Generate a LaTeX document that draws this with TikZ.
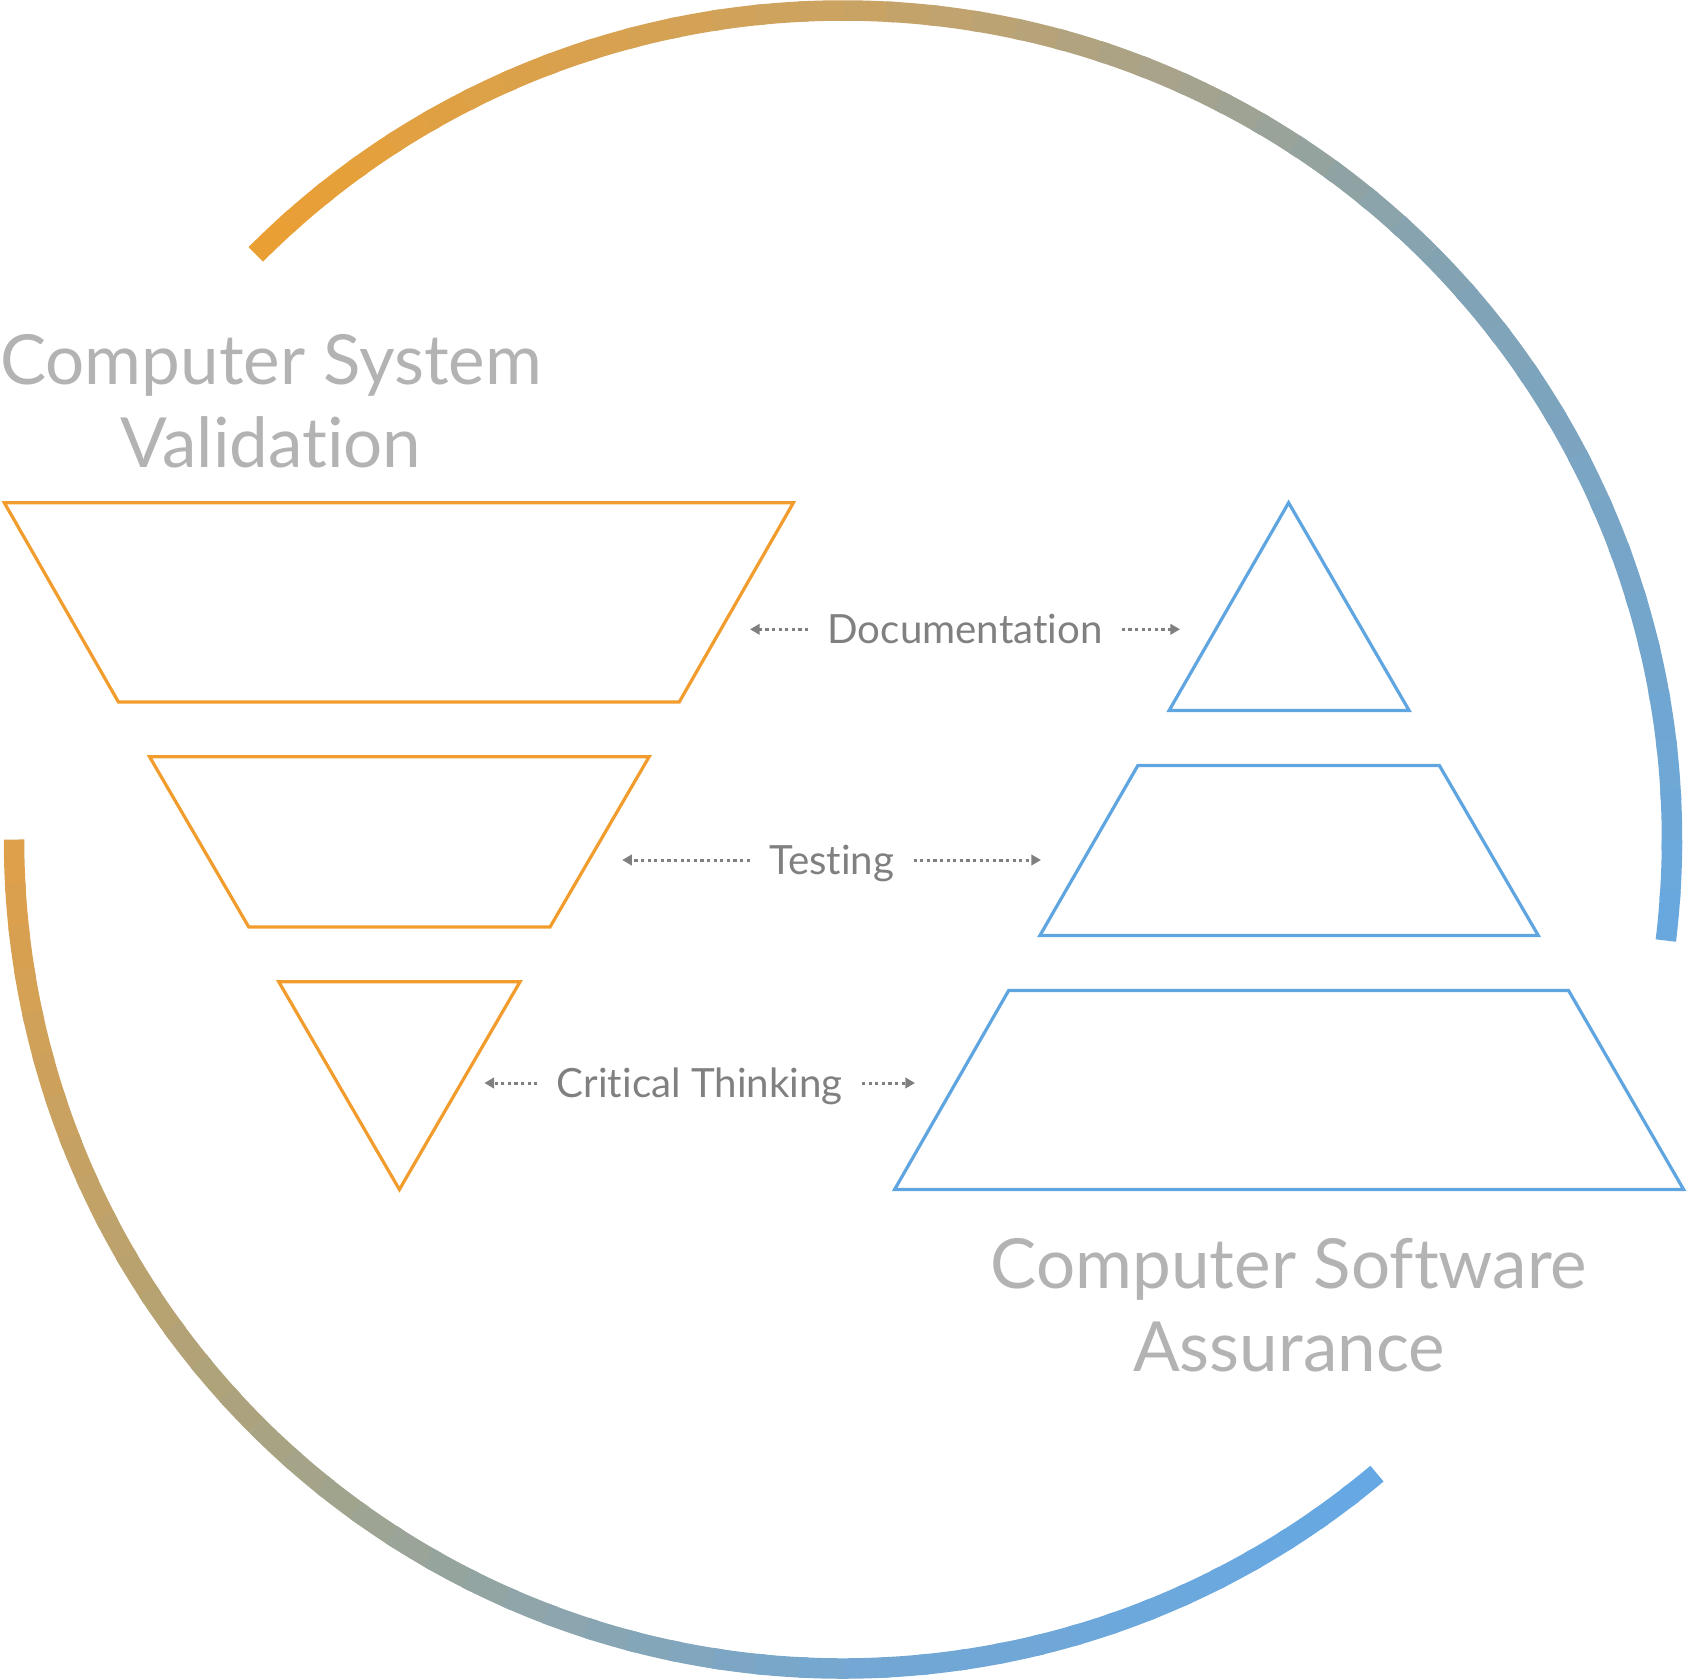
\documentclass[tikz,border=0pt]{standalone}
\usepackage{fontspec}
\setmainfont{Lato}[Ligatures=NoCommon]
\usepackage{tikz}
\usetikzlibrary{arrows.meta}
\definecolor{ArcOr}{RGB}{235,159,50}
\definecolor{ArcTan}{RGB}{203,163,98}
\definecolor{ArcSlate}{RGB}{132,163,178}
\definecolor{ArcBlue}{RGB}{104,168,224}
\definecolor{ArcLa}{RGB}{224,160,72}
\definecolor{ArcLb}{RGB}{170,163,128}
\definecolor{ArcLc}{RGB}{116,167,210}
\definecolor{ArcLd}{RGB}{101,168,228}
\definecolor{CsvOrange}{RGB}{242,156,45}
\definecolor{CsaBlue}{RGB}{95,165,223}
\definecolor{TitleGray}{RGB}{179,179,179}
\definecolor{LabelGray}{RGB}{128,128,128}

\begin{document}
\begin{tikzpicture}[scale=0.5,
  ring/.style={line width=10.25bp},
  cvs/.style={draw=CsvOrange,line width=1.6bp},
  csa/.style={draw=CsaBlue,line width=1.6bp},
  title/.style={font=\fontsize{34.7}{41.3}\selectfont,text=TitleGray,align=center,inner sep=0pt,anchor=base},
  lbl/.style={font=\fontsize{20.2}{24}\selectfont,text=LabelGray,text height=14.5bp,text depth=0pt,inner xsep=9.5bp,inner ysep=0pt},
  dotarrow/.style={draw=LabelGray,line width=1.5bp,dash pattern=on 1.6bp off 1.7bp,-{Triangle[length=4.8bp,width=5.2bp]}}]
\useasboundingbox (0bp,0bp) rectangle (1688bp,-1680bp);
% Ring

\coordinate (O) at (843bp,-839.5bp);
\foreach \sa/\ea/\ca/\cb in {135.1/90/ArcOr/ArcTan,90/45/ArcTan/ArcSlate,45/-7/ArcSlate/ArcBlue,180/225/ArcLa/ArcLb,225/270/ArcLb/ArcLc,270/310.1/ArcLc/ArcLd}
  \foreach \k in {0,...,14}{
    \pgfmathsetmacro{\a}{\sa+(\ea-\sa)*\k/15}
    \pgfmathsetmacro{\b}{\sa+(\ea-\sa)*min(\k+1.2,15)/15}
    \pgfmathtruncatemacro{\p}{100*(\k+0.5)/15}
    \draw[ring,\cb!\p!\ca] (O) ++(\a:829bp) arc[start angle=\a,end angle=\b,radius=829bp];
  }

% Shapes
\draw[cvs] (4.3bp,-502.7bp) -- (793.4bp,-502.7bp) -- (679.3bp,-701.9bp) -- (118.4bp,-701.9bp) -- cycle;
\draw[cvs] (149.6bp,-756.8bp) -- (649.1bp,-756.8bp) -- (550.1bp,-926.9bp) -- (248.7bp,-926.9bp) -- cycle;
\draw[cvs] (278.8bp,-981.8bp) -- (520bp,-981.8bp) -- (399.4bp,-1189.5bp) -- cycle;
\draw[csa] (1288.6bp,-502.7bp) -- (1409.1bp,-710.5bp) -- (1169.1bp,-710.5bp) -- cycle;
\draw[csa] (1137.9bp,-765.4bp) -- (1439.3bp,-765.4bp) -- (1538.3bp,-935.5bp) -- (1039.9bp,-935.5bp) -- cycle;
\draw[csa] (1008.7bp,-990.4bp) -- (1568.5bp,-990.4bp) -- (1683.6bp,-1189.5bp) -- (894.6bp,-1189.5bp) -- cycle;

\node (CSV) at (271bp,-467bp)[title] {Computer System\\Validation};
\node (CSA) at (1289bp,-1371bp)[title] {Computer Software\\Assurance};

\node (Doc) at (965bp,-629.3bp)[lbl] {Documentation};
\coordinate (DocL) at (750bp,-629.3bp);
\coordinate (DocR) at (1180bp,-629.3bp);
\draw[dotarrow] (Doc.west) -- (DocL);
\draw[dotarrow] (Doc.east) -- (DocR);
\node (Test) at (831.6bp,-860bp)[lbl] {Testing};
\coordinate (TestL) at (622.2bp,-860bp);
\coordinate (TestR) at (1041bp,-860bp);
\draw[dotarrow] (Test.west) -- (TestL);
\draw[dotarrow] (Test.east) -- (TestR);
\node (Crit) at (699.7bp,-1083bp)[lbl] {Critical Thinking};
\coordinate (CritL) at (484.4bp,-1083bp);
\coordinate (CritR) at (915bp,-1083bp);
\draw[dotarrow] (Crit.west) -- (CritL);
\draw[dotarrow] (Crit.east) -- (CritR);

\end{tikzpicture}
\end{document}
